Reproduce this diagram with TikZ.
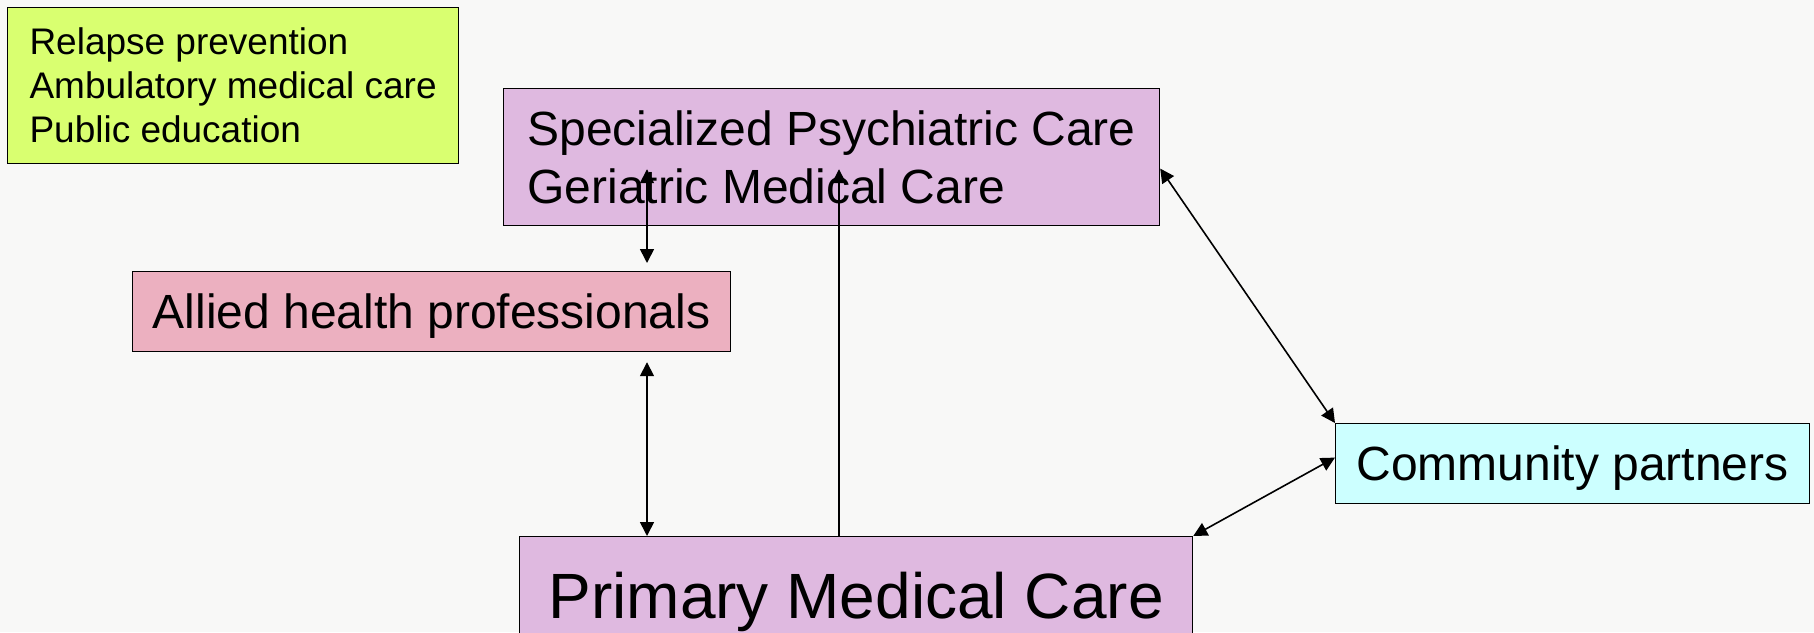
\documentclass[tikz,border=0pt]{standalone}
\usepackage{fontspec}
\setmainfont{Liberation Sans}
\usetikzlibrary{positioning,arrows.meta,calc}
\definecolor{bgclr}{RGB}{248,248,247}
\definecolor{noteclr}{RGB}{217,255,112}
\definecolor{careclr}{RGB}{223,185,224}
\definecolor{alliedclr}{RGB}{236,176,192}
\definecolor{commclr}{RGB}{204,255,255}
\tikzset{
  blk/.style={rectangle,draw=black,line width=0.6pt,anchor=north west,
              inner ysep=0pt,font=\fontsize{24}{29}\selectfont},
  notebox/.style={blk,fill=noteclr,align=left,minimum width=225.5pt,
                  minimum height=78pt,font=\fontsize{18.5}{22}\selectfont},
  carebox/.style={blk,fill=careclr},
  onelinebox/.style={blk,minimum height=40pt,text depth=0pt},
  oneway/.style={-{Triangle[length=7pt,width=7pt]},line width=0.8pt},
  twoway/.style={{Triangle[length=7pt,width=7pt]}-{Triangle[length=7pt,width=7pt]},
                 line width=0.8pt},
}

\begin{document}
\begin{tikzpicture}[x=0.5pt,y=-0.5pt]
\path[use as bounding box,fill=bgclr] (0,0) rectangle (1814,632);
\node[notebox] (tasks) at (7,7)
  {Relapse prevention\\Ambulatory medical care\\Public education};
\node[carebox,align=left,minimum width=328pt,minimum height=68.5pt]
  (spec) at (503,88) {Specialized Psychiatric Care\\Geriatric Medical Care};
\node[onelinebox,fill=alliedclr,minimum width=299pt] (allied) at (132,271)
  {Allied health professionals};
\node[onelinebox,fill=commclr,minimum width=237pt] (comm) at (1335,423)
  {Community partners};
\node[carebox,minimum width=336.5pt,minimum height=59pt,text depth=0pt,
      font=\fontsize{32}{38}\selectfont] (primary) at (519,536)
  {Primary Medical Care};
% vertical lanes of the links
\coordinate (lane1) at (647,0);
\coordinate (lane2) at (839,0);
\draw[twoway,shorten <=4pt,shorten >=-28.5pt] (allied.north -| lane1) -- (spec.south -| lane1);
\draw[twoway,shorten <=5pt] (allied.south -| lane1) -- (primary.north -| lane1);
\draw[oneway,shorten >=-28.5pt] (primary.north -| lane2) -- (spec.south -| lane2);
\draw[twoway] (spec.-2) -- (comm.north west);
\draw[twoway] (primary.north east) -- ([yshift=3pt]comm.west);
\end{tikzpicture}
\end{document}
